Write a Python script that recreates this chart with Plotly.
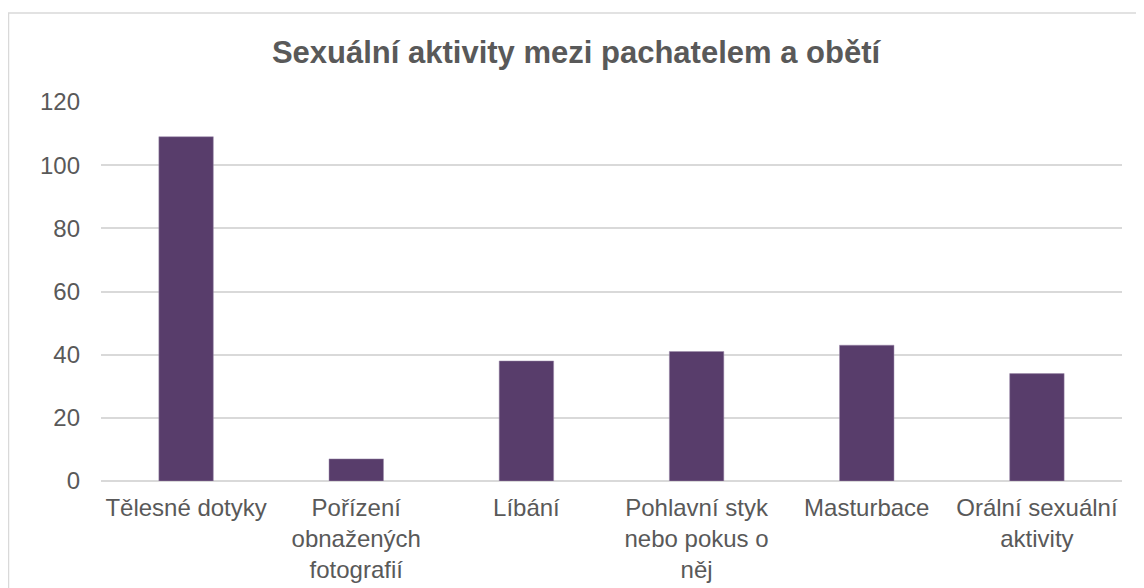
import plotly.graph_objects as go

categories = [
    "Tělesné dotyky",
    "Pořízení<br>obnažených<br>fotografií",
    "Líbání",
    "Pohlavní styk<br>nebo pokus o<br>něj",
    "Masturbace",
    "Orální sexuální<br>aktivity",
]
values = [109, 7, 38, 41, 43, 34]
y_ticks = [0, 20, 40, 60, 80, 100, 120]

BAR_COLOR = "#583d6b"
TEXT_COLOR = "#595959"
GRID_COLOR = "#d9d9d9"
FONT = "Liberation Sans, Arial, sans-serif"

fig = go.Figure(go.Bar(
    x=categories, y=values,
    marker=dict(color=BAR_COLOR, line=dict(color="#9d8bab", width=0.5)),
    hoverinfo="x+y",
))

# light border round the whole chart area (runs off the right/bottom edge)
fig.add_shape(
    type="rect", xref="paper", yref="paper",
    x0=-0.0906, x1=1.3, y0=-0.6, y1=1.2348,
    line=dict(color="#d9d9d9", width=1.5), fillcolor="rgba(0,0,0,0)",
    layer="below",
)

# page body adds 8px margin, so the figure is 8px smaller than the window
fig.update_layout(
    width=1136, height=580,
    paper_bgcolor="white", plot_bgcolor="white",
    margin=dict(l=93, r=22, t=94, b=107),
    title=dict(
        text="<b>Sexuální aktivity mezi pachatelem a obětí</b>",
        x=0.5, xanchor="center", y=0.924, yanchor="middle",
        font=dict(family=FONT, size=31, color=TEXT_COLOR),
    ),
    font=dict(family=FONT, size=24, color=TEXT_COLOR),
    bargap=0.68,
    showlegend=False,
    xaxis=dict(
        showgrid=False, showline=False, ticks="",
        ticklabelstandoff=10, automargin=False,
        tickfont=dict(size=24, color=TEXT_COLOR),
    ),
    yaxis=dict(
        range=[0, 120], tickvals=y_ticks,
        showgrid=True, gridcolor=GRID_COLOR, gridwidth=1.5,
        zeroline=True, zerolinecolor=GRID_COLOR, zerolinewidth=1.5,
        showline=False, ticks="", ticklabelstandoff=20, automargin=False,
        tickfont=dict(size=24, color=TEXT_COLOR),
    ),
)

fig.write_html("out.html")
